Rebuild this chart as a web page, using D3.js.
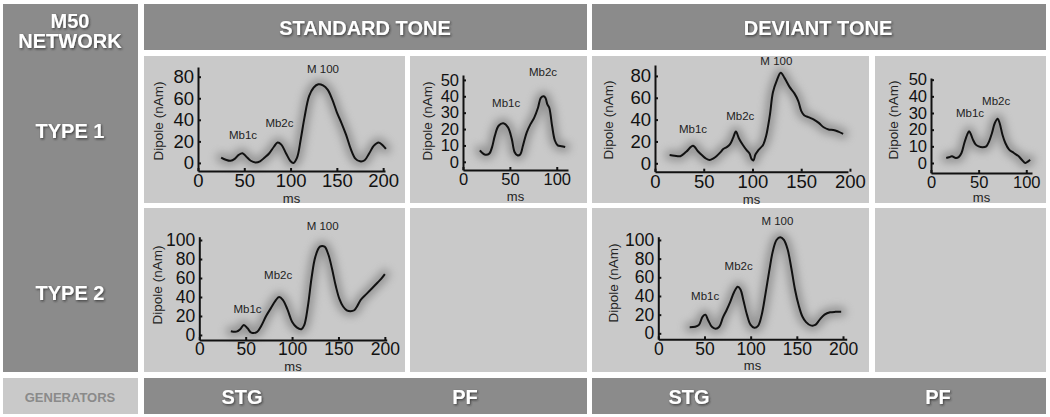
<!DOCTYPE html>
<html>
<head>
<meta charset="utf-8">
<script src="https://cdn.jsdelivr.net/npm/d3@7"></script>
<style>
  body { margin: 0; background: #fff; }
  svg { display: block; font-family: "Liberation Sans", Arial, sans-serif; }
</style>
</head>
<body>
<div id="chart"></div>
<script>
// ---- data (ms, dipole nAm) ----
const stdType1 = [[25,5],[30,3],[35,2],[40,4],[44,7.5],[48,9],[52,6],[57,2],[62,0.5],[67,1.5],[72,5],[77,9],[82,15],[86,19],[90,17],[95,9],[100,1.5],[103,0],[107,5],[111,22],[115,42],[120,62],[125,70],[130,73],[135,72],[140,68],[145,59],[150,47],[155,37],[160,26],[165,13],[170,4],[175,1.5],[180,2.5],[185,9],[190,16],[195,19],[200,16],[203,13]];
const stdType1PF = [[18,7],[23,4.5],[28,5],[31,9],[34,16],[38,22],[43,23.5],[48,21],[52,14],[55,6],[58,4],[61,4.5],[64,10],[68,18],[72,23],[76,27],[80,33],[83,39],[86,40],[88,39],[90,35],[92,33],[95,22],[98,13],[101,10],[105,9.5],[109,9]];
const devType1 = [[15,7.5],[20,7],[26,6.5],[32,10.5],[39,16],[44,11],[48,7.5],[52,4.5],[56,3],[60,4.5],[63,6.5],[67,10],[70,13],[74,15],[77,17.5],[80,23],[83,29],[86,23],[90,17],[94,12],[97,9],[99,4],[101,2.5],[103,8],[106,12],[111,17],[114,25],[116,34],[118,45],[121,65],[125,76],[129,83],[133,78],[138,70],[143,64],[147,57],[150,48],[153,44],[158,42],[163,40],[168,37],[173,33],[178,31],[183,30.5],[188,29],[193,27]];
const devType1PF = [[16,3],[19,3.5],[22,4],[26,3],[29,3.5],[32,6],[35,12],[38,17],[40,19],[42,17],[44,14],[47,11],[50,10],[54,9.5],[58,10],[61,13],[64,18],[67,24],[70,26.5],[72,24],[75,17],[78,12],[82,8],[87,6],[92,4],[96,1.5],[99,0],[102,1],[104,2]];
const stdType2 = [[34,4],[40,3.5],[44,6],[48,10.5],[52,7],[56,2.5],[62,3],[67,10],[72,20],[77,28],[82,36],[86,40],[90,37],[95,27],[100,14],[105,8],[110,6],[113,10],[117,30],[121,60],[125,82],[130,93],[135,93],[139,85],[143,70],[147,52],[151,38],[155,30],[159,26],[163,25],[167,26],[170,30],[174,37],[180,43],[186,49],[192,55],[196,59],[200,64]];
const devType2 = [[34,6.5],[40,7],[44,9],[48,18],[51,20],[54,14],[58,7],[62,5],[66,7],[70,17],[74,25],[78,34],[82,44],[86,50],[89,47],[92,36],[96,20],[100,9],[104,6],[108,8],[112,20],[116,42],[120,66],[124,88],[128,100],[132,103],[136,100],[140,90],[144,70],[148,47],[152,30],[156,18],[160,12],[165,8.5],[170,9],[175,15],[180,20],[186,22.5],[192,23],[198,23]];

// peak labels [name, ms, nAm]
const stdType1Peaks = [["Mb1c",48.6,26],["Mb2c",88,37],["M 100",135,87]];
const stdType1PFPeaks = [["Mb1c",46,36],["Mb2c",85.4,55]];
const devType1Peaks = [["Mb1c",39,31],["Mb2c",87.5,43],["M 100",124.5,94]];
const devType1PFPeaks = [["Mb1c",41,30],["Mb2c",68.4,37]];
const stdType2Peaks = [["Mb1c",52,27],["Mb2c",85,63],["M 100",133,115]];
const devType2Peaks = [["Mb1c",50.7,40],["Mb2c",87,72],["M 100",129,120]];

// tick labels
const msTicks200 = [0, 50, 100, 150, 200];
const msTicks100 = [0, 50, 100];
const nAmTicks80 = [0, 20, 40, 60, 80];
const nAmTicks50 = [0, 10, 20, 30, 40, 50];
const nAmTicks100 = [0, 20, 40, 60, 80, 100];

// grid labels
const toneLabels = ["STANDARD TONE", "DEVIANT TONE"];
const typeLabels = ["TYPE 1", "TYPE 2"];
const generatorLabels = ["STG", "PF", "STG", "PF"];

// ---- layout ----
const W = 1050, H = 417;
const dark = "#8b8b8b", light = "#c9c9c9";

const svg = d3.select("#chart").append("svg").attr("width", W).attr("height", H);
const defs = svg.append("defs");

const shadow = defs.append("filter").attr("id", "txtShadow")
  .attr("x", "-10%").attr("y", "-30%").attr("width", "130%").attr("height", "170%");
shadow.append("feDropShadow").attr("dx", 1).attr("dy", 1.2).attr("stdDeviation", 0.9)
  .attr("flood-color", "#222").attr("flood-opacity", 0.75);

const glow = defs.append("filter").attr("id", "glow")
  .attr("x", "-15%").attr("y", "-40%").attr("width", "130%").attr("height", "180%");
glow.append("feGaussianBlur").attr("stdDeviation", 4);

// background blocks
svg.append("rect").attr("x", 3).attr("y", 4).attr("width", 135).attr("height", 368).attr("fill", dark);
svg.append("rect").attr("x", 144).attr("y", 4).attr("width", 443).attr("height", 46).attr("fill", dark);
svg.append("rect").attr("x", 592).attr("y", 4).attr("width", 454).attr("height", 46).attr("fill", dark);

const panels = [
  {x:144, y:56, w:261, h:147}, {x:410, y:56, w:177, h:147},
  {x:592, y:56, w:277, h:147}, {x:875, y:56, w:171, h:147},
  {x:144, y:208, w:261, h:164}, {x:410, y:208, w:177, h:164},
  {x:592, y:208, w:277, h:164}, {x:875, y:208, w:171, h:164}
];
svg.selectAll(".panel").data(panels).join("rect").attr("class", "panel")
  .attr("x", d => d.x).attr("y", d => d.y).attr("width", d => d.w).attr("height", d => d.h)
  .attr("fill", light);

// bottom row
svg.append("rect").attr("x", 3).attr("y", 378).attr("width", 135).attr("height", 36).attr("fill", light);
svg.append("rect").attr("x", 144).attr("y", 378).attr("width", 443).attr("height", 36).attr("fill", dark);
svg.append("rect").attr("x", 592).attr("y", 378).attr("width", 454).attr("height", 36).attr("fill", dark);

function whiteText(x, y, txt, size) {
  return svg.append("text").attr("x", x).attr("y", y).text(txt)
    .attr("text-anchor", "middle").attr("dominant-baseline", "central")
    .attr("fill", "#fff").attr("font-weight", "bold").attr("font-size", size)
    .attr("filter", "url(#txtShadow)");
}

whiteText(70, 21, "M50", 20);
whiteText(70, 41, "NETWORK", 20);
const toneX = [365, 818];
toneLabels.forEach((t, i) => whiteText(toneX[i], 28, t, 20));
const typeY = [131, 293];
typeLabels.forEach((t, i) => whiteText(70, typeY[i], t, 20));

svg.append("text").attr("x", 70).attr("y", 397).text("GENERATORS")
  .attr("text-anchor", "middle").attr("dominant-baseline", "central")
  .attr("fill", "#8a8a8a").attr("font-weight", "bold").attr("font-size", 13)
  .attr("font-family", "'Liberation Sans Narrow', 'Liberation Sans', Arial, sans-serif");
const genX = [242, 465, 689, 938];
generatorLabels.forEach((t, i) => whiteText(genX[i], 397, t, 20)
  .attr("font-family", "'Liberation Sans Narrow', 'Liberation Sans', Arial, sans-serif"));

// ---- the six waveform charts ----
const charts = [
  {data: stdType1, peaks: stdType1Peaks, xr: [198, 385], xd: [0, 202], yr: [171, 67], yd: [-7.5, 89],
   xt: msTicks200, yt: nAmTicks80, fs: 18.5, msY: 198, dipX: 158, dipY: 121},
  {data: stdType1PF, peaks: stdType1PFPeaks, xr: [463, 568], xd: [0, 112], yr: [170, 75], yd: [-5, 53],
   xt: msTicks100, yt: nAmTicks50, fs: 16.5, msY: 196, dipX: 427, dipY: 121},
  {data: devType1, peaks: devType1Peaks, xr: [655, 848], xd: [0, 198], yr: [171.7, 65], yd: [-7.7, 90],
   xt: msTicks200, yt: nAmTicks80, fs: 18.5, msY: 199, dipX: 608, dipY: 120},
  {data: devType1PF, peaks: devType1PFPeaks, xr: [931, 1032], xd: [0, 106], yr: [173, 78], yd: [-6, 51],
   xt: msTicks100, yt: nAmTicks50, fs: 16.5, msY: 197, dipX: 893, dipY: 120},
  {data: stdType2, peaks: stdType2Peaks, xr: [199.3, 386.7], xd: [0, 202], yr: [340, 236.7], yd: [-5.3, 103.5],
   xt: msTicks200, yt: nAmTicks100, fs: 17.5, msY: 366, dipX: 157, dipY: 285},
  {data: devType2, peaks: devType2Peaks, xr: [658.3, 846.7], xd: [0, 204], yr: [339.3, 236.7], yd: [-6.4, 103.5],
   xt: msTicks200, yt: nAmTicks100, fs: 17.5, msY: 365, dipX: 613, dipY: 283}
];

charts.forEach(c => {
  const g = svg.append("g");
  const x = d3.scaleLinear().domain(c.xd).range(c.xr);
  const y = d3.scaleLinear().domain(c.yd).range(c.yr);

  const line = d3.line().x(d => x(d[0])).y(d => y(d[1])).curve(d3.curveCatmullRom.alpha(0.5));

  // soft grey halo behind the waveform
  g.append("path").datum(c.data).attr("d", line)
    .attr("fill", "none").attr("stroke", "#777").attr("stroke-width", 10)
    .attr("stroke-linejoin", "round").attr("stroke-linecap", "round")
    .attr("opacity", 0.65).attr("filter", "url(#glow)");

  const yAxis = g.append("g").attr("transform", `translate(${c.xr[0]},0)`)
    .call(d3.axisLeft(y).tickValues(c.yt).tickSizeInner(-3).tickSizeOuter(0).tickPadding(4));
  const xAxis = g.append("g").attr("transform", `translate(0,${c.yr[0]})`)
    .call(d3.axisBottom(x).tickValues(c.xt).tickSizeInner(-3).tickSizeOuter(0).tickPadding(3));
  [yAxis, xAxis].forEach(a => {
    a.select(".domain").attr("stroke", "#111").attr("stroke-width", 2);
    a.selectAll(".tick line").attr("stroke", "#111").attr("stroke-width", 2);
    a.selectAll(".tick text").attr("fill", "#111").attr("font-size", c.fs)
      .attr("font-family", "'Liberation Sans', Arial, sans-serif");
  });

  g.append("path").datum(c.data).attr("d", line)
    .attr("fill", "none").attr("stroke", "#111").attr("stroke-width", 2)
    .attr("stroke-linejoin", "round");

  g.selectAll(".peak").data(c.peaks).join("text")
    .attr("x", d => x(d[1])).attr("y", d => y(d[2]))
    .attr("text-anchor", "middle").attr("dominant-baseline", "central")
    .attr("font-size", 11.5).attr("fill", "#222").text(d => d[0]);

  g.append("text").attr("x", (c.xr[0] + c.xr[1]) / 2).attr("y", c.msY)
    .attr("text-anchor", "middle").attr("dominant-baseline", "central")
    .attr("font-size", 13).attr("fill", "#222").text("ms");

  g.append("text").attr("transform", `translate(${c.dipX},${c.dipY}) rotate(-90)`)
    .attr("text-anchor", "middle").attr("dominant-baseline", "central")
    .attr("font-size", 13.5).attr("fill", "#222").text("Dipole (nAm)");
});
</script>
</body>
</html>
